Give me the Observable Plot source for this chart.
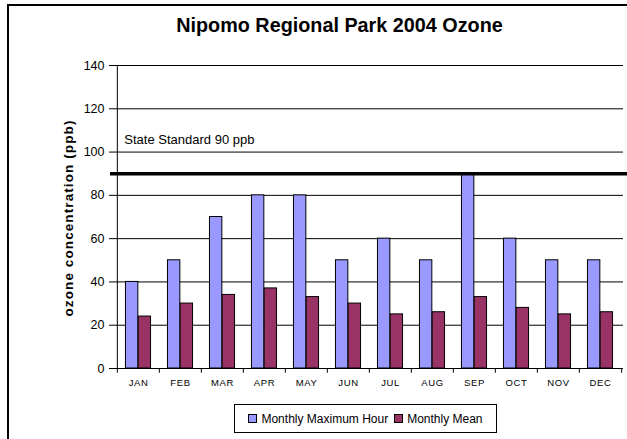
<!DOCTYPE html>
<html>
<head>
<meta charset="utf-8">
<script src="https://cdn.jsdelivr.net/npm/d3@7"></script>
<script src="https://cdn.jsdelivr.net/npm/@observablehq/plot@0.6"></script>
<style>
  body { margin: 0; background: #fff; font-family: "Liberation Sans", Arial, sans-serif; }
  #wrap { position: relative; width: 627px; height: 439px; overflow: hidden; }
  #border { position: absolute; left: 7px; top: 4px; width: 660px; height: 480px; border: 2px solid #000; box-sizing: border-box; pointer-events: none; }
  #title { height: 45px; line-height: 1; padding-top: 16px; box-sizing: border-box; text-align: center; font-weight: bold; font-size: 19.8px; color: #000; padding-left: 52px; }
  #chart svg { display: block; }
  #legend { position: absolute; left: 234px; top: 404px; width: 263px; height: 29px; border: 1px solid #000; box-sizing: border-box; display: flex; align-items: center; justify-content: center; font-size: 12px; color: #000; }
  .sw { display: inline-block; width: 7px; height: 7px; border: 1px solid #000; margin-right: 4px; }
  .item { display: flex; align-items: center; margin: 0 3px; }
</style>
</head>
<body>
<div id="wrap">
  <div id="title">Nipomo Regional Park 2004 Ozone</div>
  <div id="chart"></div>
  <div id="legend"></div>
  <div id="border"></div>
</div>
<script>
const months = ["JAN","FEB","MAR","APR","MAY","JUN","JUL","AUG","SEP","OCT","NOV","DEC"];
const monthlyMax = [40, 50, 70, 80, 80, 50, 60, 50, 90, 60, 50, 50];
const monthlyMean = [24, 30, 34, 37, 33, 30, 25, 26, 33, 28, 25, 26];
const seriesNames = ["Monthly Maximum Hour", "Monthly Mean"];
const seriesColors = ["#9999FF", "#993366"];
const yTicks = [0, 20, 40, 60, 80, 100, 120, 140];
const standard = 90;
const standardLabel = "State Standard 90 ppb";
const yLabel = "ozone concentration (ppb)";

const data = months.map((m, i) => ({month: m, max: monthlyMax[i], mean: monthlyMean[i]}));

const width = 627, height = 350;
const marginLeft = 115, marginRight = 4, marginTop = 20, marginBottom = 27;
const bw = (width - marginLeft - marginRight) / months.length;
const barW = bw * 0.3;
const outer = (bw - 2 * barW) / 2;
const FONT = "'Liberation Sans', Arial, sans-serif";

const chart = Plot.plot({
  width, height, marginLeft, marginRight, marginTop, marginBottom,
  style: {fontFamily: FONT, color: "#000", background: "transparent"},
  x: {domain: months, padding: 0, label: null},
  y: {domain: [0, 140], label: null},
  marks: [
    Plot.ruleY(yTicks.filter(d => d > 0), {stroke: "#000", strokeWidth: 1}),
    Plot.barY(data, {x: "month", y: "max", fill: seriesColors[0], stroke: "#000", strokeWidth: 1, insetLeft: outer, insetRight: bw - outer - barW}),
    Plot.barY(data, {x: "month", y: "mean", fill: seriesColors[1], stroke: "#000", strokeWidth: 1, insetLeft: outer + barW, insetRight: outer}),
    Plot.ruleY([standard], {stroke: "#000", strokeWidth: 3.5, insetLeft: -5, insetRight: -6}),
    Plot.text([standardLabel], {x: () => months[0], y: () => 100, text: d => d, textAnchor: "start", lineAnchor: "bottom", dx: -bw / 2 + 7, dy: -8, fontSize: 13, fill: "#000", fontFamily: FONT}),
    // axis lines
    Plot.ruleY([0], {stroke: "#000", strokeWidth: 1}),
    Plot.ruleX([months[0]], {y1: 0, y2: 140, dx: -bw / 2, stroke: "#000", strokeWidth: 1}),
    // category boundary ticks
    Plot.ruleX(months, {y1: 0, y2: -2.2, dx: -bw / 2, stroke: "#000", strokeWidth: 1}),
    Plot.ruleX([months[months.length - 1]], {y1: 0, y2: -2.2, dx: bw / 2, stroke: "#000", strokeWidth: 1}),
    Plot.axisY({ticks: yTicks, tickSize: 6, tickPadding: 5, fontSize: 12.5, label: null}),
    Plot.axisX({tickSize: 0, tickPadding: 11, fontSize: 9.5, label: null}),
    Plot.text([yLabel], {frameAnchor: "left", textAnchor: "middle", lineAnchor: "middle", dx: -47, dy: 1, rotate: -90, text: d => d, fontSize: 13.5, fontWeight: "bold", fill: "#000", fontFamily: FONT})
  ]
});
d3.select(chart).selectAll("g[aria-label='x-axis tick label'] text").style("letter-spacing", "0.6px");
d3.select(chart).selectAll("text").filter(function() { return this.textContent === yLabel; }).style("letter-spacing", "1.1px");
document.getElementById("chart").appendChild(chart);

const legend = document.getElementById("legend");
seriesNames.forEach((name, i) => {
  const item = document.createElement("span");
  item.className = "item";
  const sw = document.createElement("span");
  sw.className = "sw";
  sw.style.background = seriesColors[i];
  item.appendChild(sw);
  item.appendChild(document.createTextNode(name));
  legend.appendChild(item);
});
</script>
</body>
</html>
